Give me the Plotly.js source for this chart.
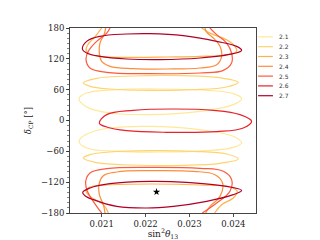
<!DOCTYPE html>
<html>
<head>
<meta charset="utf-8">
<script src="https://cdn.plot.ly/plotly-3.0.1.min.js"></script>
<style>html,body{margin:0;padding:0;background:#fff;}#chart{width:320px;height:240px;}</style>
</head>
<body>
<div id="chart"></div>
<script>
// Contour levels and their colours
const levels = ["2.1", "2.2", "2.3", "2.4", "2.5", "2.6", "2.7"];
const colors = ["#ffe89a", "#fed470", "#feb24c", "#fd8d3c", "#fc5a3c", "#e6222a", "#b10026"];

// Level 2.1: two closed curves (upper, lower)
const c21aX = [0.020484, 0.020658, 0.021342, 0.022329, 0.023392, 0.023999, 0.024189, 0.023999, 0.023240, 0.022101, 0.021190, 0.020658, 0.020484];
const c21aY = [42.5, 53.5, 60.0, 61.3, 58.7, 52.2, 42.5, 30.8, 17.8, 11.4, 14.6, 26.3, 42.5];
const c21bX = [0.020484, 0.020658, 0.021342, 0.022329, 0.023392, 0.023999, 0.024189, 0.023999, 0.023240, 0.022101, 0.021190, 0.020658, 0.020484];
const c21bY = [-41.0, -53.5, -60.0, -61.3, -58.7, -52.2, -43.8, -30.8, -17.8, -11.4, -14.6, -26.3, -41.0];

// Level 2.2: two closed curves
const c22aX = [0.020582, 0.020886, 0.021721, 0.022860, 0.023696, 0.024113, 0.023847, 0.023088, 0.022101, 0.021190, 0.020734, 0.020582];
const c22aY = [73.0, 82.0, 86.6, 87.2, 83.3, 74.3, 65.2, 60.0, 58.7, 61.3, 66.5, 73.0];
const c22bX = [0.020582, 0.020886, 0.021721, 0.022860, 0.023696, 0.024113, 0.023847, 0.023088, 0.022101, 0.021190, 0.020734, 0.020582];
const c22bY = [-73.0, -82.0, -86.6, -87.2, -83.3, -75.0, -65.2, -60.0, -58.7, -61.3, -66.5, -73.0];

// Level 2.3: open curves wrapping around delta = +/-180
const c23aX = [0.021000, 0.020848, 0.020696, 0.020643, 0.020719, 0.020962, 0.021721, 0.022481, 0.023240, 0.023847, 0.024075, 0.024037, 0.023847, 0.023468, 0.023278];
const c23aY = [180, 163, 149, 138, 129.6, 124.9, 122.9, 123.6, 124.9, 128, 134.6, 144.3, 157, 170, 180];
const c23bX = [0.021152, 0.021038, 0.020734, 0.020643, 0.020734, 0.021114, 0.022101, 0.023240, 0.023923, 0.024090, 0.023999, 0.023734, 0.023574];
const c23bY = [-180, -163.8, -147.6, -137.8, -129.4, -125.5, -123.6, -125.5, -129.4, -137.8, -150.8, -163.8, -180];

// Level 2.4
const c24aX = [0.021091, 0.021053, 0.020962, 0.020947, 0.021000, 0.021190, 0.021721, 0.022481, 0.023240, 0.023620, 0.023734, 0.023696, 0.023544, 0.023392, 0.023354];
const c24aY = [180, 167, 150.8, 131.3, 115.1, 105.4, 100.9, 100.2, 102.2, 108.6, 124.9, 144.3, 160.5, 172, 180];
const c24bX = [0.021076, 0.021038, 0.020947, 0.020947, 0.021038, 0.021342, 0.022101, 0.023088, 0.023582, 0.023756, 0.023696, 0.023468, 0.023369];
const c24bY = [-180, -163.8, -144.3, -121.6, -107.4, -100.2, -97.6, -98.9, -105.4, -121.6, -147.6, -167, -180];

// Level 2.5
const c25aX = [0.021190, 0.021114, 0.020886, 0.020696, 0.020643, 0.020734, 0.021114, 0.022101, 0.023240, 0.023772, 0.023961, 0.023961, 0.023847, 0.023620, 0.023468];
const c25aY = [180, 170, 154, 134.6, 118.4, 102.2, 93.7, 91.1, 92.4, 97.6, 111.9, 131.3, 150.8, 167, 180];
const c25bX = [0.021000, 0.020886, 0.020674, 0.020636, 0.020734, 0.021114, 0.022101, 0.023240, 0.023772, 0.023961, 0.023923, 0.023620, 0.023293];
const c25bY = [-180, -167, -137.8, -118.4, -102.2, -93.7, -91.1, -93.1, -98.9, -115.1, -137.8, -160.5, -180];

// Level 2.6: closed curve around delta = 0
const c26X = [0.020947, 0.021114, 0.021721, 0.022633, 0.023544, 0.024151, 0.024417, 0.024227, 0.023620, 0.022481, 0.021569, 0.021114, 0.020947];
const c26Y = [-4.9, 11.4, 19.8, 22.4, 19.8, 11.4, -1.6, -14.6, -21.7, -23.0, -19.8, -12.6, -4.9];

// Level 2.7: two closed curves
const c27aX = [0.020560, 0.020658, 0.020962, 0.021569, 0.022101, 0.022860, 0.023620, 0.024075, 0.024189, 0.023999, 0.023240, 0.022329, 0.021569, 0.020962, 0.020658, 0.020560];
const c27aY = [139.1, 154.0, 163.8, 168.3, 169.0, 165.1, 154.0, 144.3, 136.6, 130.0, 121.6, 118.4, 119.7, 124.9, 131.3, 139.1];
const c27bX = [0.020567, 0.020734, 0.021190, 0.022101, 0.022936, 0.023847, 0.024189, 0.023999, 0.023392, 0.022633, 0.022025, 0.021342, 0.020810, 0.020620, 0.020567];
const c27bY = [-139.8, -131.3, -122.9, -118.4, -120.3, -128.1, -136.0, -144.3, -157.3, -167.0, -170.3, -167.0, -154.0, -146.3, -139.8];

// Best-fit point
const bestX = [0.02225];
const bestY = [-139];

const curveSets = [
  [[c21aX, c21aY], [c21bX, c21bY]],
  [[c22aX, c22aY], [c22bX, c22bY]],
  [[c23aX, c23aY], [c23bX, c23bY]],
  [[c24aX, c24aY], [c24bX, c24bY]],
  [[c25aX, c25aY], [c25bX, c25bY]],
  [[c26X, c26Y]],
  [[c27aX, c27aY], [c27bX, c27bY]]
];

const traces = [];
curveSets.forEach((set, i) => {
  set.forEach(([xs, ys]) => {
    traces.push({
      x: xs, y: ys, type: 'scatter', mode: 'lines',
      line: {color: colors[i], width: 1.2, shape: 'spline', smoothing: 1.1},
      showlegend: false, hoverinfo: 'skip'
    });
  });
});
traces.push({x: bestX, y: bestY, type: 'scatter', mode: 'markers',
  marker: {symbol: 'star', size: 5.5, color: '#000'}, showlegend: false});

// Manual legend (paper coords)
const shapes = [];
const annotations = [];
const legTop = 0.952, legStep = 0.053;
levels.forEach((lv, i) => {
  const yy = legTop - i * legStep;
  shapes.push({type: 'line', xref: 'paper', yref: 'paper', x0: 1.011, x1: 1.091, y0: yy, y1: yy,
    line: {color: colors[i], width: 1.2}});
  annotations.push({xref: 'paper', yref: 'paper', x: 1.112, y: yy, text: lv, showarrow: false,
    xanchor: 'left', yanchor: 'middle', font: {family: 'DejaVu Sans', size: 6, color: '#333'}});
});

const serif = 'DejaVu Serif';
const layout = {
  width: 320, height: 240,
  margin: {l: 70, r: 64, t: 28, b: 27},
  paper_bgcolor: '#fff', plot_bgcolor: '#fff',
  showlegend: false,
  xaxis: {
    range: [0.020278, 0.024517],
    tickvals: [0.021, 0.022, 0.023, 0.024],
    ticktext: ['0.021', '0.022', '0.023', '0.024'],
    ticks: 'outside', ticklen: 3, tickwidth: 0.8, tickcolor: '#222',
    showline: true, linecolor: '#444', linewidth: 1, mirror: true,
    showgrid: false, zeroline: false,
    tickfont: {family: serif, size: 8.5, color: '#222'},
    title: {text: 'sin<sup>2</sup><i>θ</i><sub>13</sub>', font: {family: serif, size: 9, color: '#222'}, standoff: 8}
  },
  yaxis: {
    range: [-180, 180],
    tickvals: [-180, -120, -60, 0, 60, 120, 180],
    ticks: 'outside', ticklen: 3, tickwidth: 0.8, tickcolor: '#222',
    minor: {dtick: 10, ticks: 'outside', ticklen: 1.8, tickwidth: 0.6, tickcolor: '#333'},
    showline: true, linecolor: '#444', linewidth: 1, mirror: true,
    showgrid: false, zeroline: false,
    tickfont: {family: serif, size: 8.5, color: '#222'},
    title: {text: '<i>δ</i><sub>CP</sub> [°]', font: {family: serif, size: 8.5, color: '#222'}, standoff: 7}
  },
  shapes: shapes,
  annotations: annotations
};

Plotly.newPlot('chart', traces, layout, {staticPlot: true, displayModeBar: false});
</script>
</body>
</html>
